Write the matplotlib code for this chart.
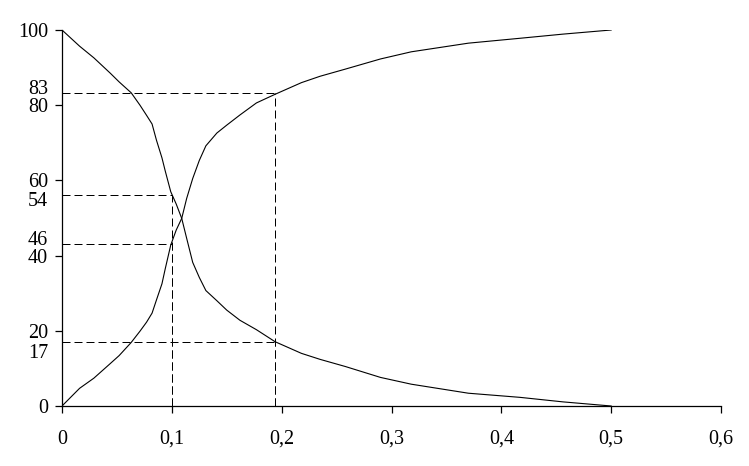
import matplotlib.pyplot as plt

# Curve data
x = [0, 0.016, 0.029, 0.044, 0.052, 0.063, 0.071, 0.077, 0.082, 0.086,
     0.091, 0.094, 0.099, 0.104, 0.109, 0.1135, 0.119, 0.125, 0.131, 0.141,
     0.15, 0.162, 0.177, 0.194, 0.218, 0.235, 0.258, 0.29, 0.318, 0.37,
     0.417, 0.456, 0.5]
rising = [0, 4.7, 7.4, 11.3, 13.4, 16.9, 19.9, 22.3, 24.7, 28.2,
          32.5, 36.5, 42.8, 46.8, 49.9, 55.2, 60.5, 65.3, 69.2, 72.6,
          74.7, 77.4, 80.6, 82.9, 86, 87.7, 89.6, 92.3, 94.2, 96.5,
          97.8, 98.9, 100]
falling = [100, 95.7, 92.6, 88.5, 86.2, 83.3, 80, 77.3, 75, 70.7,
           66, 62.5, 57, 53.7, 49.9, 44.6, 38.2, 34.2, 30.7, 28,
           25.5, 22.8, 20.3, 17.1, 14, 12.4, 10.5, 7.6, 5.8, 3.4,
           2.3, 1.1, 0]

# Reference (dashed) lines
cut_x = [0.1, 0.1, 0.194, 0.194]
cut_y = [56, 43.2, 83.2, 16.9]

# Axis labels
xticks = [0, 0.1, 0.2, 0.3, 0.4, 0.5, 0.6]
xlabels = ["0", "0,1", "0,2", "0,3", "0,4", "0,5", "0,6"]
yticks = [0, 20, 40, 60, 80, 100]
extra_labels = ["83", "54", "46", "17"]
extra_pos = [84.9, 55.0, 44.8, 14.6]

plt.rcParams['font.family'] = ['Liberation Serif', 'DejaVu Serif']

fig = plt.figure(figsize=(7.49, 4.66), dpi=100)
ax = fig.add_axes([62 / 749, 1 - 406 / 466, (721 - 62) / 749, (406 - 30) / 466])

ax.plot(x, rising, color='black', lw=0.8)
ax.plot(x, falling, color='black', lw=0.8)

for cx, cy in zip(cut_x, cut_y):
    ax.plot([0, cx], [cy, cy], color='black', lw=0.72, ls=(0, (8, 4)))
    ax.plot([cx, cx], [0, cy], color='black', lw=0.72, ls=(0, (8, 4)))

ax.set_xlim(0, 0.6)
ax.set_ylim(0, 100)
ax.set_xticks(xticks, xlabels)
ax.set_yticks(yticks)
ax.set_yticks(extra_pos, extra_labels, minor=True)

for s in ['top', 'right']:
    ax.spines[s].set_visible(False)
for s in ['left', 'bottom']:
    ax.spines[s].set_linewidth(0.9)

ax.tick_params(axis='both', which='major', labelsize=14.5, length=5, width=0.9,
               direction='out', colors='black')
ax.tick_params(axis='y', which='major', pad=5)
ax.tick_params(axis='x', which='major', pad=12)
ax.tick_params(axis='y', which='minor', labelsize=14.5, length=0, pad=10)

fig.savefig("out.png", dpi=100)
